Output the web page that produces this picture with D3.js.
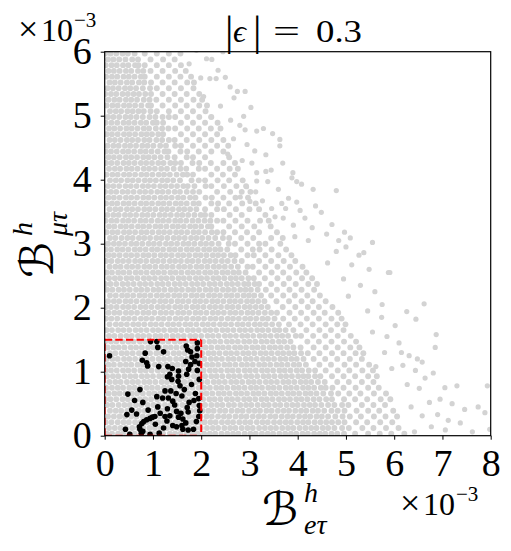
<!DOCTYPE html>
<html><head><meta charset="utf-8">
<script src="https://cdn.jsdelivr.net/npm/d3@7"></script>
<style>body{margin:0;background:#fff}</style></head>
<body><svg id="c" width="511" height="551"></svg>
<script>
// ---- data (units of 1e-3) ----
const xTicks = [0,1,2,3,4,5,6,7,8];
const yTicks = [0,1,2,3,4,5,6];
const boxX = [0, 2];
const boxY = [0, 1.5];
// gray scan rows: first value is y, then the x values of the points on that row
const grayRows = [
[0.03,0.04,0.15,0.28,0.38,0.51,0.62,0.75,0.86,0.99,1.10,1.21,1.35,1.46,1.57,1.70,1.82,1.93,2.06,2.18,2.29,2.42,2.54,2.66,2.77,2.90,3.02,3.13,3.26,3.38,3.49,3.62,3.74,3.86,3.97,4.10,4.21,4.34,4.46,4.57,4.70,4.82,4.96,5.19,5.46,5.70,5.94,6.21],
[0.12,0.09,0.21,0.33,0.44,0.57,0.69,0.80,0.93,1.04,1.16,1.29,1.40,1.52,1.64,1.76,1.88,1.99,2.12,2.24,2.35,2.48,2.60,2.71,2.84,2.96,3.07,3.20,3.32,3.44,3.55,3.68,3.80,3.91,4.04,4.16,4.28,4.39,4.52,4.63,4.76,4.92,5.06,5.34,5.57,5.83,6.09],
[0.21,0.02,0.14,0.27,0.39,0.50,0.63,0.74,0.87,0.98,1.11,1.23,1.34,1.47,1.58,1.71,1.82,1.95,2.07,2.19,2.30,2.43,2.55,2.66,2.79,2.91,3.02,3.15,3.27,3.38,3.51,3.63,3.75,3.86,3.99,4.11,4.22,4.35,4.47,4.59,4.71,4.84,4.97,5.21,5.44,5.71,5.96],
[0.30,0.07,0.19,0.31,0.42,0.55,0.66,0.79,0.91,1.02,1.15,1.27,1.38,1.51,1.62,1.75,1.87,1.98,2.11,2.22,2.35,2.47,2.58,2.71,2.83,2.94,3.07,3.19,3.30,3.43,3.54,3.67,3.79,3.90,4.03,4.15,4.26,4.39,4.50,4.63,4.78,4.93,5.08,5.31,5.58,5.82,6.06],
[0.39,0.11,0.23,0.34,0.47,0.58,0.71,0.83,0.94,1.07,1.19,1.30,1.43,1.54,1.67,1.79,1.90,2.03,2.15,2.26,2.39,2.50,2.63,2.75,2.86,2.99,3.11,3.22,3.35,3.46,3.59,3.71,3.82,3.95,4.07,4.18,4.31,4.42,4.55,4.70,4.83,4.97,5.22,5.46,5.69,5.98],
[0.48,0.05,0.16,0.29,0.41,0.52,0.65,0.76,0.89,1.01,1.12,1.25,1.37,1.48,1.61,1.72,1.85,1.97,2.08,2.21,2.33,2.44,2.57,2.68,2.81,2.93,3.04,3.17,3.29,3.40,3.53,3.64,3.77,3.89,4.00,4.13,4.25,4.36,4.49,4.63,4.76,4.92,5.05,5.33,5.57,5.81],
[0.57,0.01,0.12,0.24,0.37,0.48,0.60,0.73,0.84,0.96,1.09,1.20,1.32,1.45,1.56,1.68,1.81,1.92,2.04,2.17,2.28,2.40,2.53,2.64,2.76,2.89,3.00,3.12,3.25,3.36,3.48,3.61,3.72,3.84,3.97,4.08,4.20,4.33,4.45,4.59,4.71,4.96,5.19,5.44,5.72,5.92],
[0.66,0.08,0.20,0.31,0.43,0.56,0.67,0.79,0.92,1.03,1.15,1.28,1.39,1.51,1.64,1.75,1.87,2.00,2.11,2.23,2.36,2.47,2.59,2.72,2.83,2.95,3.08,3.19,3.31,3.44,3.55,3.67,3.80,3.91,4.03,4.16,4.27,4.39,4.53,4.69,4.84,5.07,5.30,5.58,5.83],
[0.75,0.03,0.15,0.27,0.38,0.51,0.62,0.74,0.87,0.98,1.10,1.23,1.34,1.46,1.59,1.70,1.82,1.95,2.06,2.18,2.31,2.42,2.54,2.67,2.78,2.90,3.03,3.14,3.26,3.39,3.50,3.62,3.75,3.86,3.98,4.11,4.22,4.34,4.48,4.58,4.72,4.95,5.20,5.46,5.68],
[0.84,0.10,0.22,0.33,0.46,0.58,0.69,0.82,0.93,1.05,1.18,1.29,1.41,1.54,1.65,1.77,1.90,2.01,2.13,2.26,2.37,2.49,2.62,2.73,2.85,2.98,3.09,3.21,3.34,3.45,3.57,3.70,3.81,3.93,4.06,4.17,4.28,4.42,4.56,4.82,5.06,5.33,5.57],
[0.93,0.05,0.17,0.28,0.41,0.53,0.64,0.77,0.88,1.00,1.13,1.24,1.36,1.49,1.60,1.72,1.85,1.96,2.08,2.21,2.32,2.44,2.57,2.68,2.80,2.93,3.04,3.16,3.29,3.40,3.52,3.65,3.76,3.88,4.01,4.12,4.22,4.36,4.47,4.71,4.95,5.19,5.46,5.64],
[1.02,0.02,0.13,0.25,0.38,0.49,0.61,0.74,0.85,0.97,1.10,1.21,1.33,1.46,1.57,1.69,1.82,1.93,2.05,2.18,2.29,2.41,2.54,2.65,2.77,2.90,3.01,3.13,3.26,3.37,3.49,3.62,3.73,3.85,3.98,4.09,4.23,4.36,4.58,4.83,5.07,5.34,5.56],
[1.11,0.08,0.19,0.32,0.44,0.55,0.68,0.79,0.91,1.04,1.15,1.27,1.40,1.51,1.63,1.76,1.87,1.99,2.12,2.23,2.35,2.48,2.59,2.71,2.84,2.95,3.07,3.20,3.31,3.43,3.56,3.67,3.79,3.92,4.03,4.17,4.45,4.69,4.97,5.21,5.48],
[1.20,0.04,0.16,0.27,0.40,0.51,0.63,0.76,0.87,0.99,1.12,1.23,1.35,1.48,1.59,1.71,1.84,1.95,2.07,2.20,2.31,2.43,2.56,2.67,2.79,2.92,3.03,3.15,3.28,3.39,3.51,3.64,3.75,3.87,3.98,4.12,4.33,4.57,4.82,5.08,5.33],
[1.29,0.11,0.22,0.35,0.46,0.58,0.71,0.82,0.94,1.07,1.18,1.30,1.43,1.54,1.66,1.79,1.90,2.02,2.15,2.26,2.38,2.51,2.62,2.74,2.87,2.98,3.10,3.23,3.34,3.46,3.59,3.70,3.82,3.93,4.07,4.21,4.45,4.71,4.95,5.20,5.36],
[1.38,0.06,0.18,0.29,0.41,0.54,0.65,0.77,0.90,1.01,1.13,1.26,1.37,1.49,1.62,1.73,1.85,1.98,2.09,2.21,2.34,2.45,2.57,2.70,2.81,2.93,3.06,3.17,3.29,3.42,3.53,3.65,3.78,3.91,4.06,4.33,4.58,4.83,5.09,5.28],
[1.47,0.01,0.13,0.24,0.37,0.49,0.60,0.73,0.84,0.96,1.09,1.20,1.32,1.45,1.56,1.68,1.81,1.92,2.04,2.17,2.28,2.40,2.53,2.64,2.76,2.89,3.00,3.12,3.25,3.36,3.48,3.61,3.72,3.85,4.20,4.44,4.70,4.96,5.21],
[1.56,0.09,0.20,0.33,0.45,0.56,0.69,0.80,0.92,1.05,1.16,1.28,1.41,1.52,1.64,1.77,1.88,2.00,2.13,2.24,2.36,2.49,2.60,2.72,2.85,2.96,3.08,3.21,3.32,3.44,3.57,3.68,3.80,3.96,4.07,4.32,4.57,4.83,5.10],
[1.65,0.04,0.15,0.28,0.39,0.51,0.64,0.75,0.87,1.00,1.11,1.23,1.36,1.47,1.59,1.72,1.83,1.95,2.08,2.19,2.31,2.44,2.55,2.67,2.80,2.91,3.03,3.16,3.27,3.39,3.52,3.62,3.75,3.91,4.18,4.45,4.69,4.95],
[1.74,0.10,0.23,0.34,0.46,0.59,0.70,0.82,0.95,1.06,1.18,1.31,1.42,1.54,1.67,1.78,1.90,2.03,2.14,2.26,2.39,2.50,2.62,2.75,2.86,2.98,3.11,3.22,3.34,3.47,3.61,3.82,4.06,4.31,4.58,4.82,4.99],
[1.83,0.03,0.14,0.26,0.39,0.50,0.62,0.75,0.86,0.98,1.11,1.22,1.34,1.47,1.58,1.70,1.83,1.94,2.06,2.19,2.30,2.42,2.55,2.66,2.78,2.91,3.02,3.14,3.27,3.38,3.52,3.70,3.94,4.19,4.44,4.70,4.91],
[1.92,0.08,0.20,0.31,0.44,0.55,0.67,0.80,0.91,1.03,1.16,1.27,1.39,1.52,1.63,1.75,1.88,1.99,2.11,2.24,2.35,2.47,2.60,2.71,2.83,2.96,3.07,3.19,3.32,3.45,3.57,3.83,4.07,4.33,4.56,4.84],
[2.01,0.02,0.13,0.25,0.38,0.49,0.61,0.74,0.85,0.97,1.10,1.21,1.33,1.46,1.57,1.69,1.82,1.93,2.05,2.18,2.29,2.41,2.54,2.65,2.77,2.90,3.01,3.13,3.25,3.38,3.69,3.95,4.21,4.44,4.72],
[2.10,0.07,0.19,0.30,0.43,0.54,0.66,0.79,0.90,1.02,1.15,1.26,1.38,1.51,1.62,1.74,1.87,1.98,2.10,2.23,2.34,2.46,2.59,2.70,2.82,2.95,3.06,3.18,3.31,3.56,3.82,4.08,4.31,4.58],
[2.19,0.11,0.23,0.36,0.47,0.59,0.72,0.83,0.95,1.08,1.19,1.31,1.44,1.55,1.67,1.80,1.91,2.03,2.16,2.27,2.39,2.52,2.63,2.75,2.88,2.99,3.10,3.24,3.45,3.70,3.94,4.20,4.46],
[2.28,0.05,0.16,0.29,0.40,0.52,0.65,0.76,0.88,1.01,1.12,1.24,1.37,1.48,1.60,1.73,1.84,1.96,2.09,2.20,2.32,2.45,2.56,2.68,2.81,2.92,3.03,3.17,3.34,3.57,3.83,4.08,4.34],
[2.37,0.01,0.12,0.24,0.37,0.48,0.60,0.73,0.84,0.96,1.09,1.20,1.32,1.45,1.56,1.68,1.81,1.92,2.04,2.17,2.28,2.40,2.53,2.64,2.76,2.89,2.98,3.11,3.20,3.45,3.71,3.96,4.22,4.40],
[2.46,0.09,0.21,0.32,0.45,0.56,0.68,0.81,0.92,1.04,1.17,1.28,1.40,1.53,1.64,1.76,1.89,2.00,2.12,2.25,2.36,2.48,2.61,2.72,2.84,2.98,3.09,3.32,3.58,3.82,4.09,4.30],
[2.55,0.04,0.15,0.28,0.39,0.51,0.64,0.75,0.87,1.00,1.11,1.23,1.36,1.47,1.59,1.72,1.83,1.95,2.08,2.19,2.31,2.44,2.55,2.67,2.78,2.92,3.20,3.46,3.70,3.97,4.18],
[2.64,0.10,0.22,0.33,0.46,0.57,0.69,0.82,0.93,1.05,1.18,1.29,1.41,1.54,1.65,1.77,1.90,2.01,2.13,2.26,2.37,2.49,2.62,2.76,2.96,3.07,3.33,3.58,3.84,4.10],
[2.73,0.03,0.14,0.27,0.38,0.50,0.63,0.74,0.86,0.99,1.10,1.22,1.35,1.46,1.58,1.71,1.82,1.94,2.07,2.18,2.30,2.43,2.55,2.69,2.84,3.20,3.45,3.71,3.95],
[2.82,0.08,0.19,0.31,0.44,0.55,0.67,0.80,0.91,1.03,1.16,1.27,1.39,1.52,1.63,1.75,1.88,1.99,2.11,2.24,2.35,2.47,2.61,2.71,2.96,3.09,3.33,3.60,3.87],
[2.91,0.02,0.13,0.26,0.37,0.49,0.62,0.73,0.85,0.98,1.09,1.21,1.34,1.45,1.57,1.70,1.81,1.93,2.06,2.17,2.29,2.40,2.54,2.83,3.07,3.21,3.46,3.76],
[3.00,0.07,0.19,0.30,0.42,0.55,0.66,0.78,0.91,1.02,1.14,1.27,1.38,1.50,1.63,1.74,1.86,1.99,2.10,2.22,2.36,2.57,2.70,2.96,3.20,3.33,3.64],
[3.09,0.11,0.22,0.35,0.47,0.58,0.71,0.82,0.94,1.07,1.18,1.30,1.43,1.54,1.66,1.79,1.90,2.02,2.15,2.29,2.45,2.58,2.83,3.08,3.45,3.69],
[3.18,0.04,0.16,0.27,0.40,0.51,0.63,0.76,0.87,0.99,1.12,1.23,1.35,1.48,1.59,1.71,1.84,1.95,2.08,2.22,2.33,2.46,2.70,2.95,3.20,3.57],
[3.27,0.09,0.20,0.33,0.44,0.56,0.69,0.80,0.92,1.05,1.16,1.28,1.41,1.52,1.64,1.77,1.88,2.00,2.14,2.21,2.58,2.84,3.10,3.44],
[3.36,0.02,0.14,0.25,0.38,0.49,0.61,0.74,0.85,0.97,1.10,1.21,1.33,1.46,1.57,1.69,1.82,1.94,2.07,2.19,2.33,2.46,2.71,2.96,3.22,3.40],
[3.45,0.06,0.18,0.29,0.42,0.53,0.65,0.78,0.89,1.01,1.14,1.25,1.37,1.50,1.61,1.73,1.86,1.99,2.08,2.21,2.59,2.84,3.33],
[3.54,0.10,0.22,0.33,0.46,0.57,0.69,0.82,0.93,1.05,1.18,1.29,1.41,1.54,1.65,1.77,1.90,2.08,2.33,2.47,2.72,3.00,3.20],
[3.63,0.03,0.15,0.26,0.39,0.50,0.62,0.75,0.86,0.98,1.11,1.22,1.34,1.47,1.58,1.70,1.84,1.95,2.21,2.35,2.58,2.85,3.13],
[3.72,0.08,0.19,0.31,0.44,0.55,0.67,0.80,0.91,1.03,1.16,1.27,1.39,1.52,1.63,1.77,1.88,2.09,2.22,2.46,2.71,2.97],
[3.81,0.01,0.13,0.24,0.37,0.48,0.60,0.73,0.84,0.96,1.09,1.20,1.32,1.45,1.56,1.70,1.83,1.96,2.33,2.60,2.84,3.02],
[3.90,0.07,0.18,0.30,0.43,0.54,0.66,0.79,0.90,1.02,1.15,1.26,1.38,1.50,1.63,1.72,1.86,2.09,2.21,2.47,2.73,2.93],
[3.99,0.11,0.23,0.34,0.47,0.58,0.70,0.83,0.94,1.06,1.19,1.30,1.42,1.56,1.80,1.95,2.08,2.34,2.58,2.86],
[4.08,0.04,0.16,0.27,0.40,0.51,0.63,0.76,0.87,0.99,1.12,1.23,1.35,1.49,1.62,1.71,1.83,2.21,2.45,2.70],
[4.17,0.09,0.21,0.32,0.45,0.56,0.68,0.81,0.92,1.04,1.17,1.29,1.43,1.57,1.69,1.95,2.08,2.33,2.59,2.76],
[4.26,0.03,0.14,0.26,0.39,0.50,0.62,0.75,0.86,0.98,1.11,1.22,1.36,1.46,1.58,1.82,1.96,2.20,2.46,2.70],
[4.35,0.08,0.19,0.31,0.44,0.55,0.67,0.80,0.91,1.03,1.16,1.30,1.45,1.70,1.83,2.08,2.58],
[4.44,0.02,0.13,0.25,0.38,0.49,0.61,0.74,0.85,0.97,1.10,1.24,1.32,1.57,1.71,1.95,2.21,2.46],
[4.53,0.06,0.18,0.29,0.42,0.53,0.65,0.78,0.89,1.01,1.15,1.27,1.46,1.58,1.83,2.08,2.33,2.56],
[4.62,0.10,0.21,0.33,0.46,0.57,0.69,0.82,0.93,1.07,1.19,1.33,1.45,1.70,1.96,2.21,2.46],
[4.71,0.04,0.15,0.27,0.40,0.51,0.63,0.76,0.87,0.98,1.11,1.21,1.58,1.83,2.08,2.33],
[4.80,0.09,0.20,0.32,0.45,0.56,0.68,0.81,0.92,1.06,1.19,1.32,1.46,1.71,1.95,2.20,2.40],
[4.89,0.02,0.14,0.26,0.39,0.50,0.62,0.75,0.86,1.00,1.08,1.21,1.58,1.83,2.08,2.34],
[4.98,0.07,0.18,0.30,0.43,0.54,0.66,0.79,0.93,1.05,1.20,1.33,1.46,1.71,1.96,2.21],
[5.07,0.11,0.23,0.34,0.47,0.58,0.70,0.81,0.95,1.08,1.33,1.58,1.83,2.09],
[5.16,0.04,0.16,0.27,0.40,0.51,0.63,0.76,0.90,0.96,1.20,1.46,1.70,1.96,2.12],
[5.25,0.08,0.20,0.31,0.44,0.55,0.67,0.81,0.93,1.07,1.33,1.58,1.84,2.02],
[5.34,0.01,0.13,0.24,0.37,0.48,0.60,0.71,0.84,0.96,1.20,1.45,1.70,1.96],
[5.43,0.06,0.17,0.29,0.42,0.53,0.65,0.79,0.94,1.08,1.33,1.58,1.84],
[5.52,0.10,0.21,0.33,0.46,0.57,0.71,0.82,0.96,1.20,1.45,1.71,1.85],
[5.61,0.03,0.15,0.26,0.39,0.50,0.62,0.75,0.83,1.08,1.33,1.57,1.79],
[5.70,0.08,0.19,0.31,0.44,0.55,0.69,0.80,0.95,1.20,1.46,1.68],
[5.79,0.02,0.14,0.25,0.38,0.49,0.63,0.70,0.83,1.08,1.33,1.58],
[5.88,0.07,0.18,0.30,0.43,0.57,0.69,0.95,1.21,1.45],
[5.97,0.01,0.12,0.24,0.37,0.48,0.62,0.83,1.08,1.33,1.57],
[6.06,0.04,0.16,0.29,0.40,0.55,0.71,0.96,1.21,1.44]
];
// sparse gray points outside the main cloud [x, y]
const grayOuter = [
[6.42,0.06],[6.58,0.31],[6.77,0.14],[6.95,0.57],[7.12,0.24],[7.30,0.78],[7.46,0.41],[7.62,0.06],[7.74,0.45],[7.88,0.36],[7.93,0.78],[6.52,0.74],[6.73,0.52],[6.81,0.98],[7.06,0.09],[7.20,0.50],[6.35,0.45],[6.64,0.90],[6.44,1.02],[7.37,0.20],[7.98,0.10],[6.90,0.33],[6.27,0.80],[6.18,1.10],[7.05,0.75],
[5.62,1.08],[5.80,1.30],[5.95,1.05],[6.10,1.45],[6.26,1.94],[6.45,1.82],[6.62,2.06],[6.87,1.58],[6.85,1.38],[5.55,1.62],[5.74,1.85],[6.02,1.72],[6.31,1.25],[6.58,1.15],[5.45,1.95],[5.85,1.55],[6.15,1.30],[6.48,1.20],
[5.91,2.55],[5.37,2.86],[5.27,2.82],[5.12,2.67],[4.95,2.45],[5.05,2.18],[5.30,2.35],[5.60,2.25],[5.75,2.05],[4.80,2.88],[5.48,2.60],[4.62,2.70],[5.00,2.95],[5.88,2.55],
[3.88,4.03],[4.08,3.93],[4.32,3.85],[4.80,3.83],[3.98,3.65],[4.37,3.59],[4.49,3.49],[4.71,3.30],[4.97,3.18],[5.09,3.09],[5.55,3.02],[4.15,3.40],[4.60,3.15],[4.30,3.25],[4.05,3.52],[4.22,3.05],[4.85,3.05],
[2.11,5.89],[2.22,5.88],[2.35,5.71],[1.75,5.81],[1.99,5.59],[2.18,5.58],[2.31,5.58],[2.60,5.45],[2.75,5.38],[2.91,5.38],[2.68,5.28],[3.03,5.13],[2.88,4.99],[2.61,4.93],[2.80,4.85],[2.91,4.78],[3.15,4.76],[3.29,4.80],[3.48,4.72],[3.63,4.63],[3.63,4.53],[2.67,4.64],[3.11,4.45],[3.34,4.39],[3.69,4.26],[3.90,4.11],[3.05,4.26],[3.15,4.11],[3.34,4.13],[3.38,3.97],[3.15,3.98],[2.94,3.89],[3.13,3.81],[2.81,3.73],[3.01,3.66],[3.27,3.67],[3.46,3.55],[3.67,3.63],[3.81,3.71],[3.98,3.97],[3.53,3.42],[3.70,3.40],[3.91,3.29],[3.94,3.11],[1.90,6.02],[2.45,6.00],[1.60,6.05],[2.50,5.60],[2.05,5.30],[2.40,5.15],[2.20,4.98],[2.55,4.40],[2.85,4.30],[2.95,4.55],[3.45,4.15],[3.60,3.85],[3.75,3.55]
];
// black points [x, y]
const blackPts = [
[0.10,1.25],[0.95,1.47],[1.08,1.47],[1.10,1.38],[1.22,1.31],[0.84,1.29],[0.78,1.18],[0.87,1.14],[0.89,1.09],[1.12,1.08],[1.31,1.08],[1.40,1.05],[1.35,0.96],[1.53,1.01],[1.53,0.93],[1.52,0.85],[1.69,1.40],[1.72,1.34],[1.92,1.45],[1.92,1.36],[1.78,1.31],[1.81,1.23],[1.91,1.25],[1.87,1.16],[1.96,1.13],[1.68,1.16],[1.78,1.11],[1.74,1.04],[1.70,0.96],[1.92,1.02],[1.96,0.88],
[0.48,0.65],[0.73,0.72],[0.62,0.55],[0.79,0.52],[1.08,0.61],[1.20,0.59],[1.25,0.70],[1.37,0.70],[1.32,0.59],[1.41,0.54],[1.48,0.66],[1.56,0.78],[0.56,0.40],[0.46,0.33],[0.66,0.34],[0.43,0.10],[0.72,0.14],[0.77,0.19],[0.81,0.22],[0.87,0.25],[0.94,0.27],[0.99,0.29],[1.04,0.30],[0.73,0.10],[0.79,0.07],[0.76,0.04],[1.30,0.42],[1.35,0.31],[1.49,0.38],[1.58,0.35],[1.53,0.29],[1.62,0.26],[1.73,0.37],[1.71,0.44],[1.75,0.52],[1.29,0.23],[1.41,0.16],[1.49,0.14],[1.60,0.16],[1.62,0.10],[1.73,0.09],[1.84,0.10],[1.96,0.47],[1.97,0.39],[1.13,0.04],[0.94,0.02],[1.65,0.72],[1.80,0.80],[1.88,0.66],[1.95,0.58],[1.85,0.55],[1.60,0.62],[1.39,0.88],[1.30,0.92],[0.52,0.02],[1.05,0.18],[1.15,0.35],[1.22,0.12],[1.10,0.45],[0.90,0.40],[1.45,0.48],[1.25,0.30],[1.68,0.20],[1.90,0.22],[1.95,0.30]
];

// ---- drawing ----
const svg = d3.select('#c');
const L = 104.7, R = 490.7, T = 51.7, B = 435.7;
const x = d3.scaleLinear().domain([0, 8]).range([L, R]);
const y = d3.scaleLinear().domain([0, 6]).range([B, T]);
const serif = "'Liberation Serif','DejaVu Serif',serif";

svg.append('defs').append('clipPath').attr('id', 'clip')
  .append('rect').attr('x', L).attr('y', T).attr('width', R - L).attr('height', B - T);
const plot = svg.append('g').attr('clip-path', 'url(#clip)');

const rowPts = [];
grayRows.forEach(r => { for (let i = 1; i < r.length; i++) rowPts.push([r[i], r[0]]); });

plot.append('g').selectAll('circle').data(rowPts).join('circle')
  .attr('cx', d => x(d[0])).attr('cy', d => y(d[1])).attr('r', 2.95).attr('fill', '#d3d3d3');
plot.append('g').selectAll('circle').data(grayOuter).join('circle')
  .attr('cx', d => x(d[0])).attr('cy', d => y(d[1])).attr('r', 2.6).attr('fill', '#d3d3d3');
plot.append('g').selectAll('circle').data(blackPts).join('circle')
  .attr('cx', d => x(d[0])).attr('cy', d => y(d[1])).attr('r', 2.8).attr('fill', '#000');

const segs = [
  [[boxX[0], boxY[1]], [boxX[1], boxY[1]]],
  [[boxX[1], boxY[1]], [boxX[1], boxY[0]]],
  [[boxX[0], boxY[0]], [boxX[1], boxY[0]]],
  [[boxX[0], boxY[0]], [boxX[0], boxY[1]]]
];
const line = d3.line().x(d => x(d[0])).y(d => y(d[1]));
plot.append('g').selectAll('path').data(segs).join('path')
  .attr('d', line).attr('fill', 'none').attr('stroke', '#ff0000')
  .attr('stroke-width', 2).attr('stroke-dasharray', '7.4,3.2');

// frame
svg.append('rect').attr('x', L).attr('y', T).attr('width', R - L).attr('height', B - T)
  .attr('fill', 'none').attr('stroke', '#000').attr('stroke-width', 1.2);

// axes
const gx = svg.append('g').attr('transform', `translate(0,${B})`)
  .call(d3.axisBottom(x).tickValues(xTicks).tickSize(4).tickPadding(9).tickFormat(d => d));
gx.select('.domain').remove();
gx.attr('font-family', serif).attr('font-size', 38);
gx.selectAll('text').attr('fill', '#000');
gx.selectAll('line').attr('stroke', '#000');

const gy = svg.append('g').attr('transform', `translate(${L},0)`)
  .call(d3.axisLeft(y).tickValues(yTicks).tickSize(4).tickPadding(9).tickFormat(d => d));
gy.select('.domain').remove();
gy.attr('font-family', serif).attr('font-size', 38);
gy.selectAll('text').attr('fill', '#000');
gy.selectAll('line').attr('stroke', '#000');

// title |ϵ| = 0.3
const title = svg.append('text').attr('y', 42).attr('font-family', serif).attr('fill', '#000');
title.append('tspan').attr('x', 225).attr('y', 45).attr('font-size', 42).text('|');
title.append('tspan').attr('x', 233).attr('y', 42).attr('font-size', 32).attr('font-style', 'italic').text('ϵ');
title.append('tspan').attr('x', 253).attr('y', 45).attr('font-size', 42).text('|');
title.append('tspan').attr('x', 273).attr('y', 42).attr('font-size', 32)
  .attr('textLength', 27).attr('lengthAdjust', 'spacingAndGlyphs').text('=');
title.append('tspan').attr('x', 316).attr('y', 42).attr('font-size', 32)
  .attr('textLength', 46).attr('lengthAdjust', 'spacingAndGlyphs').text('0.3');

// offset texts (×10^-3)
function offset(x0, base) {
  const t = svg.append('text').attr('font-family', serif).attr('fill', '#000');
  t.append('tspan').attr('x', x0).attr('y', base).attr('font-size', 36).text('×');
  t.append('tspan').attr('x', x0 + 23).attr('y', base).attr('font-size', 32).text('10');
  t.append('tspan').attr('x', x0 + 56).attr('y', base - 14).attr('font-size', 21).text('−3');
}
offset(18, 41);
offset(400, 515);

// x label  ℬ^h_{eτ}
const xl = svg.append('text').attr('fill', '#000');
xl.append('tspan').attr('x', 262).attr('y', 525).attr('font-family', "'DejaVu Serif','DejaVu Sans',serif")
  .attr('font-size', 46).text('ℬ');
xl.append('tspan').attr('x', 304).attr('y', 502).attr('font-family', serif).attr('font-style', 'italic')
  .attr('font-size', 28).text('h');
xl.append('tspan').attr('x', 304).attr('y', 534).attr('font-family', serif).attr('font-style', 'italic')
  .attr('font-size', 28).text('eτ');

// y label (rotated)  ℬ^h_{μτ}
const yl = svg.append('text').attr('transform', 'translate(53,278) rotate(-90)').attr('fill', '#000');
yl.append('tspan').attr('x', 0).attr('y', 0).attr('font-family', "'DejaVu Serif','DejaVu Sans',serif")
  .attr('font-size', 46).text('ℬ');
yl.append('tspan').attr('x', 42).attr('y', -21).attr('font-family', serif).attr('font-style', 'italic')
  .attr('font-size', 28).text('h');
yl.append('tspan').attr('x', 42).attr('y', 14).attr('font-family', serif).attr('font-style', 'italic')
  .attr('font-size', 28).text('μτ');
</script>
</body></html>
